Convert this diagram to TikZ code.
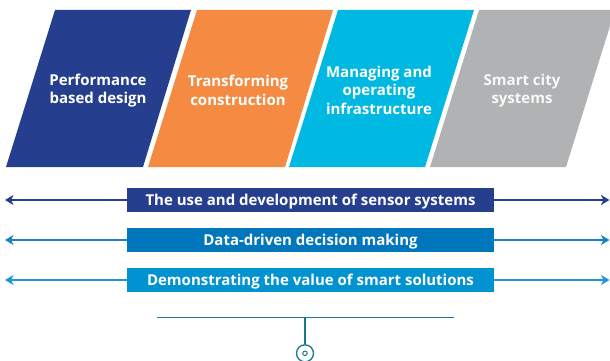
\documentclass[tikz,border=0pt]{standalone}
\usepackage{fontspec}
\setmainfont{Open Sans}
\usetikzlibrary{arrows.meta}
\definecolor{cblue}{HTML}{253F8E}
\definecolor{corange}{HTML}{F58A42}
\definecolor{ccyan}{HTML}{00B9E3}
\definecolor{cgray}{HTML}{B1B2B4}
\definecolor{cbar2}{HTML}{0077BD}
\definecolor{cbar3}{HTML}{0093D0}
\definecolor{cline2}{HTML}{1784C4}
\definecolor{cline3}{HTML}{1E97D3}
\definecolor{cteal}{HTML}{1B7693}
\tikzset{
  ptext/.style={text=white, font=\bfseries\fontsize{15}{18.5}\selectfont, align=center},
  bartext/.style={text=white, font=\bfseries\fontsize{15}{16}\selectfont, minimum width=367pt, minimum height=24pt, inner sep=0pt, text height=11pt, text depth=0pt},
  arr/.style={line width=2pt, -{Stealth[length=8.5pt,width=10pt,inset=2.5pt]}},
}
\begin{document}
\begin{tikzpicture}[x=1pt,y=-1pt]
\useasboundingbox (0,0) rectangle (610,361);
\begin{scope}
\clip (0,0) rectangle (610,361);
\fill[cblue] (55,10) -- (191,10) -- (143,167) -- (6,167) -- cycle;
\fill[corange] (197,10) -- (333,10) -- (285,167) -- (148,167) -- cycle;
\fill[ccyan] (338,10) -- (474,10) -- (425,167) -- (289,167) -- cycle;
\fill[cgray] (479,10) -- (615,10) -- (566,167) -- (430,167) -- cycle;
\end{scope}
\node[ptext] (p1) at (98,90.5) {Performance\\based design};
\node[ptext] (p2) at (238,90.5) {Transforming\\construction};
\node[ptext] (p3) at (379,90) {Managing and\\operating\\infrastructure};
\node[ptext, text=white!92!cgray] (p4) at (522,90.5) {Smart city\\systems};

\node[bartext, fill=cblue] (b1) at (310.5,200) {The use and development of sensor systems};
\node[bartext, fill=cbar2] (b2) at (310.5,240) {Data-driven decision making};
\node[bartext, fill=cbar3] (b3) at (310.5,280) {Demonstrating the value of smart solutions};

\coordinate (l1) at (5,200); \coordinate (r1) at (609.5,200);
\coordinate (l2) at (5,240); \coordinate (r2) at (609.5,240);
\coordinate (l3) at (5,280); \coordinate (r3) at (609.5,280);
\draw[arr, cblue] (b1.west) -- (l1);
\draw[arr, cblue] (b1.east) -- (r1);
\draw[arr, cline2] (b2.west) -- (l2);
\draw[arr, cline2] (b2.east) -- (r2);
\draw[arr, cline3] (b3.west) -- (l3);
\draw[arr, cline3] (b3.east) -- (r3);

\coordinate (hl) at (157,317.5);
\coordinate (hr) at (454,317.5);
\coordinate (hm) at (305,317.5);
\node[circle, draw=cteal, line width=1.3pt, minimum size=17pt, inner sep=0pt] (c) at (305,353.3) {};
\node[circle, draw=cteal, line width=1pt, minimum size=4.5pt, inner sep=0pt] (cs) at (305,353.3) {};
\draw[cteal, line width=1.3pt] (hl) -- (hr);
\draw[cteal, line width=1.3pt] (hm) -- (c.north);
\end{tikzpicture}
\end{document}
